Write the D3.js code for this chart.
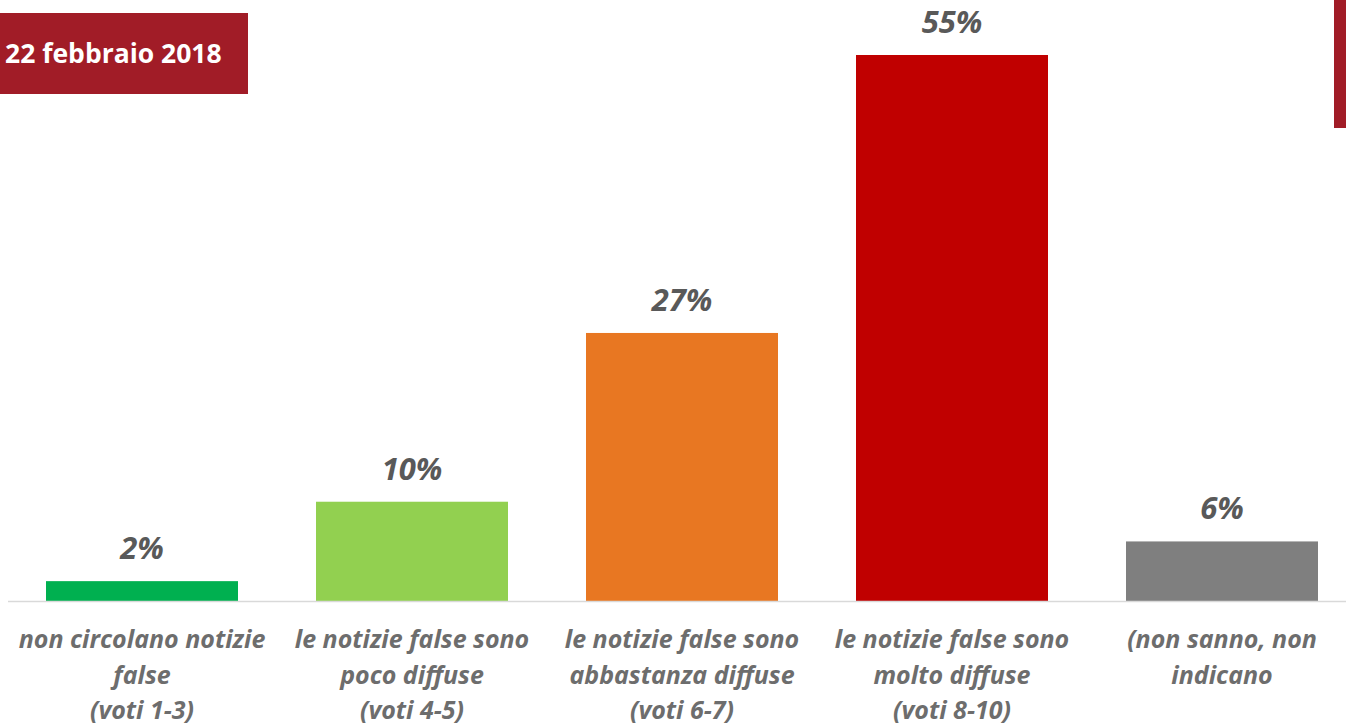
<!DOCTYPE html>
<html>
<head>
<meta charset="utf-8">
<script src="https://cdn.jsdelivr.net/npm/d3@7"></script>
<style>
  body { margin: 0; background: #fff; overflow: hidden; }
  svg { display: block; font-family: "Open Sans", Lato, sans-serif; }
</style>
</head>
<body>
<div id="chartContainer"></div>
<script>

var categories = [
    ["non circolano notizie", "false", "(voti 1-3)"],
    ["le notizie false sono", "poco diffuse", "(voti 4-5)"],
    ["le notizie false sono", "abbastanza diffuse", "(voti 6-7)"],
    ["le notizie false sono", "molto diffuse", "(voti 8-10)"],
    ["(non sanno, non", "indicano"]
]
var values = [2, 10, 27, 55, 6]
var colors = ['#00b050', '#92d050', '#e87722', '#c00000', '#7f7f7f']
var dateLabel = "22 febbraio 2018"

var width = 1346, height = 724

var svg = d3.select('#chartContainer').append('svg')
    .attr('width', width)
    .attr('height', height)

// date box top left
svg.append('rect')
    .attr('x', 0).attr('y', 13)
    .attr('width', 248).attr('height', 81)
    .style('fill', '#a11c27')
svg.append('text')
    .attr('x', 5).attr('y', 63)
    .style('font-size', '26.5px')
    .style('font-weight', 'bold')
    .style('fill', '#fff')
    .text(dateLabel)

// red strip top right
svg.append('rect')
    .attr('x', 1334).attr('y', 0)
    .attr('width', 12).attr('height', 128)
    .style('fill', '#a11c27')

var data = values.map(function(v, i) {
    return { idx: i, value: v, label: categories[i], color: colors[i] }
})

var xScale = d3.scaleBand()
    .domain(data.map(function(d) { return d.idx }))
    .range([7, 1357])
    .paddingInner(78 / 270)
    .paddingOuter(39 / 270)

var yScale = d3.scaleLinear()
    .domain([0, 55])
    .range([601, 55])

svg.selectAll('.bar')
    .data(data)
    .enter()
    .append('rect')
    .attr('class', 'bar')
    .attr('x', function(d) { return xScale(d.idx) })
    .attr('y', function(d) { return yScale(d.value) })
    .attr('width', xScale.bandwidth())
    .attr('height', function(d) { return yScale(0) - yScale(d.value) })
    .style('fill', function(d) { return d.color })

// baseline
svg.append('line')
    .attr('x1', 8).attr('x2', width)
    .attr('y1', yScale(0) + 0.5).attr('y2', yScale(0) + 0.5)
    .style('stroke', '#d9d9d9')
    .style('stroke-width', 1.5)

svg.selectAll('.valueLabel')
    .data(data)
    .enter()
    .append('text')
    .attr('class', 'valueLabel')
    .attr('x', function(d) { return xScale(d.idx) + xScale.bandwidth() / 2 })
    .attr('y', function(d) { return yScale(d.value) - 22 })
    .attr('text-anchor', 'middle')
    .style('font-size', '31px')
    .style('font-weight', 'bold')
    .style('font-style', 'italic')
    .style('fill', '#595959')
    .text(function(d) { return d.value + '%' })

var catG = svg.selectAll('.catLabel')
    .data(data)
    .enter()
    .append('text')
    .attr('class', 'catLabel')
    .attr('text-anchor', 'middle')
    .style('font-size', '25px')
    .style('font-weight', 'bold')
    .style('font-style', 'italic')
    .style('fill', '#6d6d6d')

catG.selectAll('tspan')
    .data(function(d) {
        return d.label.map(function(t, j) { return { text: t, j: j, idx: d.idx } })
    })
    .enter()
    .append('tspan')
    .attr('x', function(t) { return xScale(t.idx) + xScale.bandwidth() / 2 })
    .attr('y', function(t) { return 648 + t.j * 35.5 })
    .text(function(t) { return t.text })

</script>
</body>
</html>
